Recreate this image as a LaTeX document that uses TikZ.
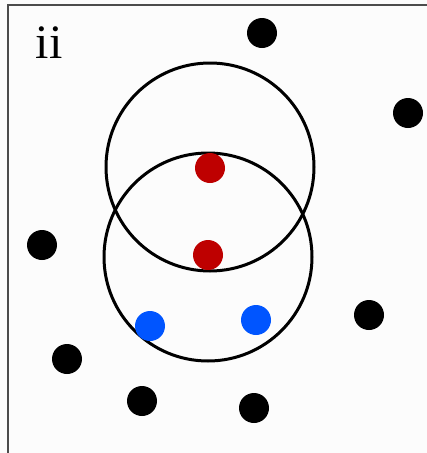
\documentclass[tikz,border=0pt]{standalone}
\usepackage{fontspec}
\setmainfont{Liberation Serif}
\definecolor{dotred}{RGB}{190,0,0}
\definecolor{dotblue}{RGB}{0,85,255}
\begin{document}
\begin{tikzpicture}[x=1pt,y=-1pt,
  dot/.style={circle,inner sep=0pt,minimum size=30pt,fill=#1},
  ring/.style={draw=black,line width=3pt}]
\useasboundingbox (0,0) rectangle (427,453);
\fill[white!98!gray] (0,0) rectangle (427,453);
\draw[gray!60!black,line width=1.6pt] (8,460) -- (8,5) -- (440,5);
\node[anchor=base,font=\fontsize{48}{48}\selectfont,inner sep=0pt] (lab) at (49,58) {ii};
\draw[ring] (210,167) circle (104);
\draw[ring] (208,257) circle (104);
\node[dot=black] (b1) at (262,33) {};
\node[dot=black] (b2) at (408,113) {};
\node[dot=black] (b3) at (42,245) {};
\node[dot=black] (b4) at (67,359) {};
\node[dot=black] (b5) at (142,401) {};
\node[dot=black] (b6) at (254,408) {};
\node[dot=black] (b7) at (369,315) {};
\node[dot=dotred] (r1) at (210,168) {};
\node[dot=dotred] (r2) at (208,255) {};
\node[dot=dotblue] (u1) at (150,326) {};
\node[dot=dotblue] (u2) at (256,320) {};
\end{tikzpicture}
\end{document}
